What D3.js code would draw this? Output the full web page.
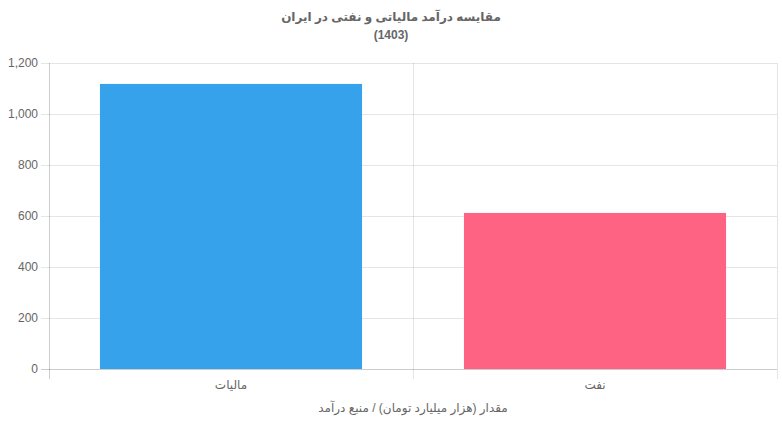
<!DOCTYPE html>
<html><head><meta charset="utf-8">
<script src="https://cdn.jsdelivr.net/npm/d3@7"></script>
<style>
html,body{margin:0;padding:0;background:#fff;}
svg{display:block;font-family:"Liberation Sans",Arial,"DejaVu Sans",sans-serif;}
</style></head>
<body><svg id="c" width="782" height="425"></svg>
<script>
const categories = ["مالیات", "نفت"];
const values = [1118, 612];
const colors = ["#36a2eb", "#ff6384"];
const yTicks = [0, 200, 400, 600, 800, 1000, 1200];
const titleLines = ["مقایسه درآمد مالیاتی و نفتی در ایران", "(1403)"];
const xAxisTitle = "مقدار (هزار میلیارد تومان) / منبع درآمد";

const W = 782, H = 425;
const m = {left: 49, right: 5, top: 63, bottom: 56};
const svg = d3.select("#c");
const x = d3.scaleBand().domain(categories).range([m.left, W - m.right]).paddingInner(0).paddingOuter(0);
const y = d3.scaleLinear().domain([0, 1200]).range([H - m.bottom, m.top]);
const fmt = d3.format(",");

// title
svg.append("g").selectAll("text").data(titleLines).join("text")
  .attr("x", W/2).attr("y", (d,i)=> 21 + i*18)
  .attr("text-anchor","middle").attr("font-size",12).attr("font-weight","bold")
  .attr("fill","#666").text(d=>d);

// horizontal grid + y ticks
const gy = svg.append("g");
gy.selectAll("line.g").data(yTicks).join("line")
  .attr("x1", m.left - 8).attr("x2", W - m.right)
  .attr("y1", d=>Math.round(y(d))+0.5).attr("y2", d=>Math.round(y(d))+0.5)
  .attr("stroke", d=> d===0 ? "rgba(0,0,0,0.2)" : "rgba(0,0,0,0.1)");
gy.selectAll("text").data(yTicks).join("text")
  .attr("x", m.left - 11).attr("y", d=>y(d)).attr("dy","0.35em")
  .attr("text-anchor","end").attr("font-size",12).attr("fill","#666").text(d=>fmt(d));

// vertical grid lines
const xb = [m.left, m.left + x.bandwidth(), W - m.right];
svg.append("g").selectAll("line").data(xb).join("line")
  .attr("x1", d=>Math.round(d)+0.5).attr("x2", d=>Math.round(d)+0.5)
  .attr("y1", m.top).attr("y2", H - m.bottom + 10)
  .attr("stroke", (d,i)=> i===0 ? "rgba(0,0,0,0.2)" : "rgba(0,0,0,0.1)");

// bars
const bw = x.bandwidth()*0.72;
svg.append("g").selectAll("rect").data(categories).join("rect")
  .attr("x", d=> x(d) + (x.bandwidth()-bw)/2)
  .attr("width", bw)
  .attr("y", (d,i)=> y(values[i]))
  .attr("height", (d,i)=> y(0) - y(values[i]))
  .attr("fill", (d,i)=> colors[i]);

// x labels
svg.append("g").selectAll("text").data(categories).join("text")
  .attr("x", d=> x(d) + x.bandwidth()/2).attr("y", 389)
  .attr("text-anchor","middle").attr("font-size",12).attr("fill","#666").text(d=>d);

svg.append("text").attr("x", m.left + (W - m.right - m.left)/2).attr("y", 412)
  .attr("text-anchor","middle").attr("font-size",12).attr("fill","#666").text(xAxisTitle);
</script></body></html>
